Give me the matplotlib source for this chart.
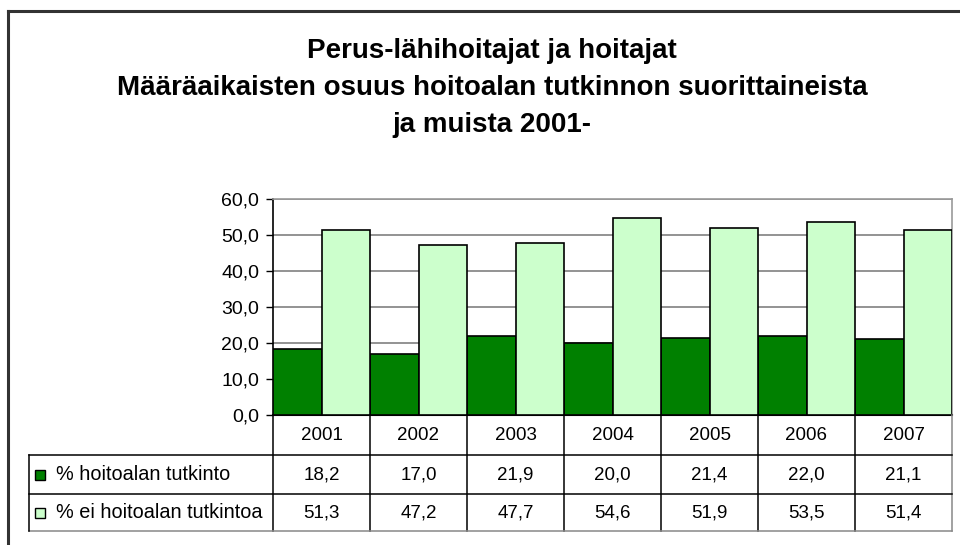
import matplotlib
matplotlib.use("Agg")
import matplotlib.pyplot as plt
from matplotlib.patches import Rectangle
from matplotlib.lines import Line2D
from matplotlib.transforms import blended_transform_factory
import numpy as np

plt.rcParams['font.family'] = ['Liberation Sans', 'DejaVu Sans']

years = ['2001', '2002', '2003', '2004', '2005', '2006', '2007']
series_names = ['% hoitoalan tutkinto', '% ei hoitoalan tutkintoa']
hoitoala = [18.2, 17.0, 21.9, 20.0, 21.4, 22.0, 21.1]
ei_hoitoala = [51.3, 47.2, 47.7, 54.6, 51.9, 53.5, 51.4]
yticks = [0, 10, 20, 30, 40, 50, 60]
title_lines = ['Perus-lähihoitajat ja hoitajat',
               'Määräaikaisten osuus hoitoalan tutkinnon suorittaineista',
               'ja muista 2001-']

colors = ['#008000', '#CCFFCC']

W, H = 960, 545
fig = plt.figure(figsize=(W / 100, H / 100), dpi=100)

def fx(px):
    return px / W

def fy(py):
    return 1 - py / H

# outer frame (top and left visible)
fig.add_artist(Line2D([fx(8), fx(960)], [fy(11), fy(11)], color='#333333', lw=2.2))
fig.add_artist(Line2D([fx(8), fx(8)], [fy(11), fy(545)], color='#333333', lw=2.2))

# title
for i, t in enumerate(title_lines):
    fig.text(fx(492), fy(51 + 37 * i), t, ha='center', va='center',
             fontsize=20, fontweight='bold')

FS = 13.5

# plot area
left, right, top, bottom = 273, 952, 199, 415
ax = fig.add_axes([fx(left), fy(bottom), fx(right - left), (bottom - top) / H])
n = len(years)
x = np.arange(n)
bw = 0.5
ax.bar(x - bw / 2, hoitoala, bw, color=colors[0], edgecolor='black', lw=1.2, zorder=3)
ax.bar(x + bw / 2, ei_hoitoala, bw, color=colors[1], edgecolor='black', lw=1.2, zorder=3)
ax.set_xlim(-0.5, n - 0.5)
ax.set_ylim(0, 60)
ax.set_yticks(yticks)
ax.set_yticklabels([f'{v:.1f}'.replace('.', ',') for v in yticks], fontsize=14)
ax.yaxis.grid(True, color='#808080', lw=1.2, zorder=0)
ax.set_xticks([])
ax.tick_params(axis='y', direction='out', length=5, width=1, color='black', pad=5)
for s in ['top', 'right']:
    ax.spines[s].set_color('#999999')
    ax.spines[s].set_linewidth(1.2)
ax.spines['left'].set_color('black')
ax.spines['bottom'].set_color('black')
ax.spines['left'].set_linewidth(1.2)
ax.spines['bottom'].set_linewidth(1.5)

# data table
tr = blended_transform_factory(ax.transData, fig.transFigure)
row_y = [415, 455, 494, 531]
tab_left = 29
lw_t = 1.1
for b in np.arange(-0.5, n - 0.5 + 0.01, 1.0):
    if b == -0.5:
        fig.add_artist(Line2D([fx(left), fx(left)], [fy(415), fy(531)], color='black', lw=lw_t))
    elif b == n - 0.5:
        fig.add_artist(Line2D([b, b], [fy(415), fy(531)], color='#888888', lw=lw_t, transform=tr))
    else:
        fig.add_artist(Line2D([b, b], [fy(415), fy(531)], color='black', lw=lw_t, transform=tr))
for yy in row_y[1:3]:
    fig.add_artist(Line2D([fx(tab_left), fx(right)], [fy(yy), fy(yy)], color='black', lw=lw_t))
fig.add_artist(Line2D([fx(tab_left), fx(right)], [fy(531), fy(531)], color='#888888', lw=lw_t))
fig.add_artist(Line2D([fx(tab_left), fx(tab_left)], [fy(455), fy(531)], color='black', lw=lw_t))

for i, yr in enumerate(years):
    fig.text(i, fy((row_y[0] + row_y[1]) / 2), yr, transform=tr,
             ha='center', va='center', fontsize=FS)
for r, vals in enumerate([hoitoala, ei_hoitoala]):
    yc = fy((row_y[r + 1] + row_y[r + 2]) / 2)
    for i, v in enumerate(vals):
        fig.text(i, yc, f'{v:.1f}'.replace('.', ','), transform=tr,
                 ha='center', va='center', fontsize=FS)
    fig.add_artist(Rectangle((fx(35), yc - 5 / H), 10 / W, 10 / H,
                             facecolor=colors[r], edgecolor='black', lw=1.0,
                             transform=fig.transFigure))
    fig.text(fx(56), yc, series_names[r], ha='left', va='center', fontsize=14.3)

fig.savefig('out.png', dpi=100)
